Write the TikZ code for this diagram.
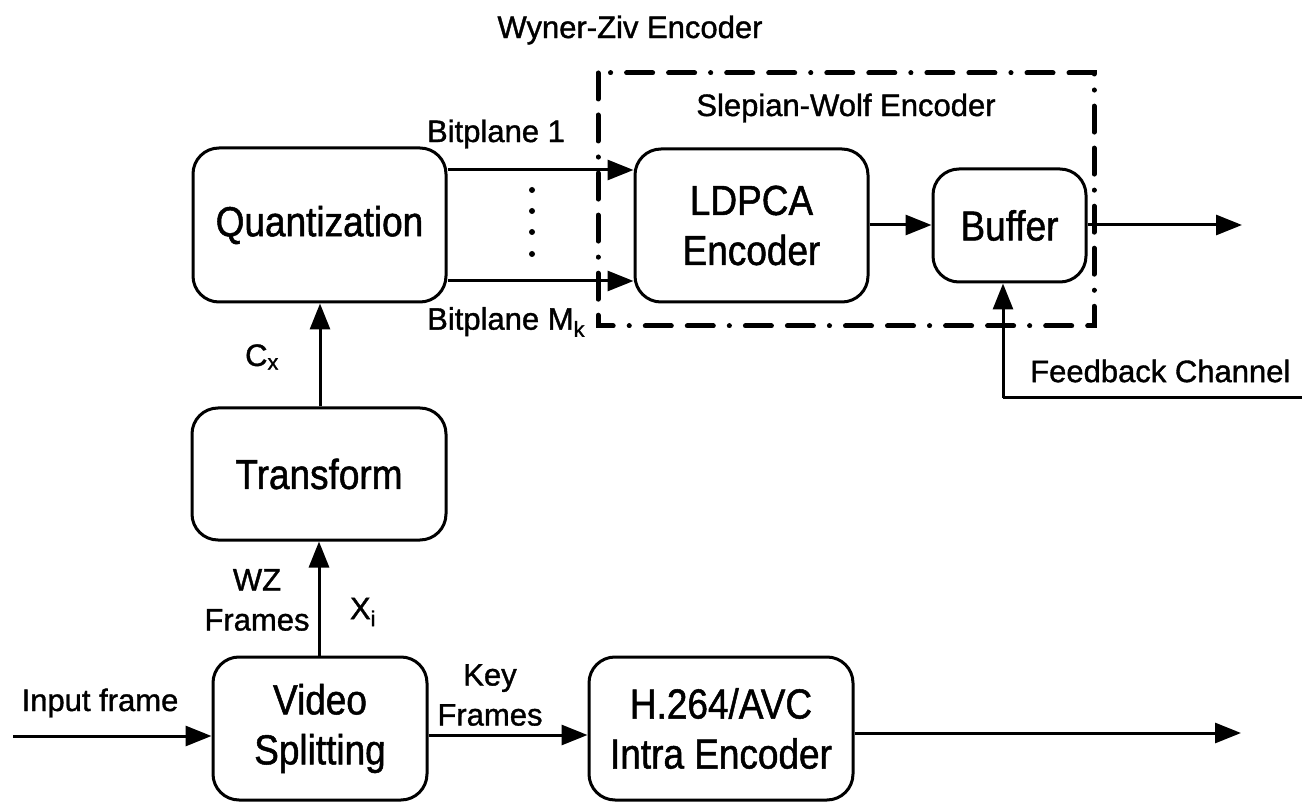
\documentclass[tikz,border=0pt]{standalone}
\usepackage{fontspec}
\setmainfont[FakeBold=1.2]{Liberation Sans}
\newfontfamily\boxfont[FakeStretch=0.88,FakeBold=1.2]{Liberation Sans}
\usetikzlibrary{arrows.meta}
\begin{document}
\begin{tikzpicture}[x=1pt,y=-1pt,
  block/.style={draw,line width=3pt,rounded corners=26pt,inner sep=0pt,
    align=center,font=\boxfont\fontsize{42}{50}\selectfont},
  lbl/.style={inner sep=0pt,align=center,font=\fontsize{31}{40}\selectfont},
  flow/.style={line width=3pt,-{Triangle[length=26pt,width=20pt]}},
  plain/.style={line width=3pt},
  swbox/.style={line width=5pt,line cap=round,
    dash pattern=on 26pt off 16pt on 26pt off 16pt on 0.1pt off 16pt}]
\useasboundingbox (0,0) rectangle (1302,810);

% processing blocks
\node[block,minimum width=253pt,minimum height=154pt] (quant) at (319.5,225) {Quantization};
\node[block,minimum width=254pt,minimum height=132pt] (trans) at (319,474) {Transform};
\node[block,minimum width=214pt,minimum height=143pt] (split) at (320,728.5) {Video\\Splitting};
\node[block,minimum width=264pt,minimum height=143pt] (intra) at (721,728.5) {H.264/AVC\\Intra Encoder};
\node[block,minimum width=233pt,minimum height=153pt] (ldpca) at (751.5,225.5) {LDPCA\\Encoder};
\node[block,minimum width=153pt,minimum height=113pt] (buf) at (1009.5,225.5) {Buffer};

% Slepian-Wolf encoder frame
\draw[swbox] (598,73) rectangle (1094,326);

% free ends of the connectors
\coordinate (in) at (13,736);
\coordinate (keyout) at (1241,733);
\coordinate (wzout) at (1242,225);
\coordinate (fbin) at (1302,398);
\coordinate (fbturn) at (1003,398);

% connectors
\draw[flow] (in) -- (in -| split.west);
\draw[flow] (split.east |- 0,735) -- (intra.west |- 0,735);
\draw[flow] (intra.east |- keyout) -- (keyout);
\draw[flow] (split.north -| 319,0) -- (trans.south -| 319,0);
\draw[flow] (trans.north -| 320,0) -- (quant.south -| 320,0);
\draw[flow] (quant.east |- 0,170) -- (ldpca.west |- 0,170);
\draw[flow] (quant.east |- 0,281) -- (ldpca.west |- 0,281);
\draw[flow] (ldpca.east |- wzout) -- (buf.west |- wzout);
\draw[flow] (buf.east |- wzout) -- (wzout);
\draw[plain] (fbin) -- (fbturn);
\draw[flow] (fbturn) -- (fbturn |- buf.south);

% bitplane dots
\foreach \yy in {190,211,232,254}
  \fill (532,\yy) circle (3pt);

% labels
\node[lbl] (wz) at (630,30) {Wyner-Ziv Encoder};
\node[lbl] (sw) at (846,108) {Slepian-Wolf Encoder};
\node[lbl] (bp1) at (496,134) {Bitplane 1};
\node[lbl,anchor=west] (bpm) at (427,322) {Bitplane M\textsubscript{k}};
\node[lbl] (cx) at (262,357) {C\textsubscript{x}};
\node[lbl] (wzf) at (257,600) {WZ\\Frames};
\node[lbl] (xi) at (363,612) {X\textsubscript{i}};
\node[lbl] (inp) at (100,703) {Input frame};
\node[lbl] (keyf) at (490,695) {Key\\Frames};
\node[lbl,anchor=west] (fb) at (1030,371) {Feedback Channel};
\end{tikzpicture}
\end{document}
